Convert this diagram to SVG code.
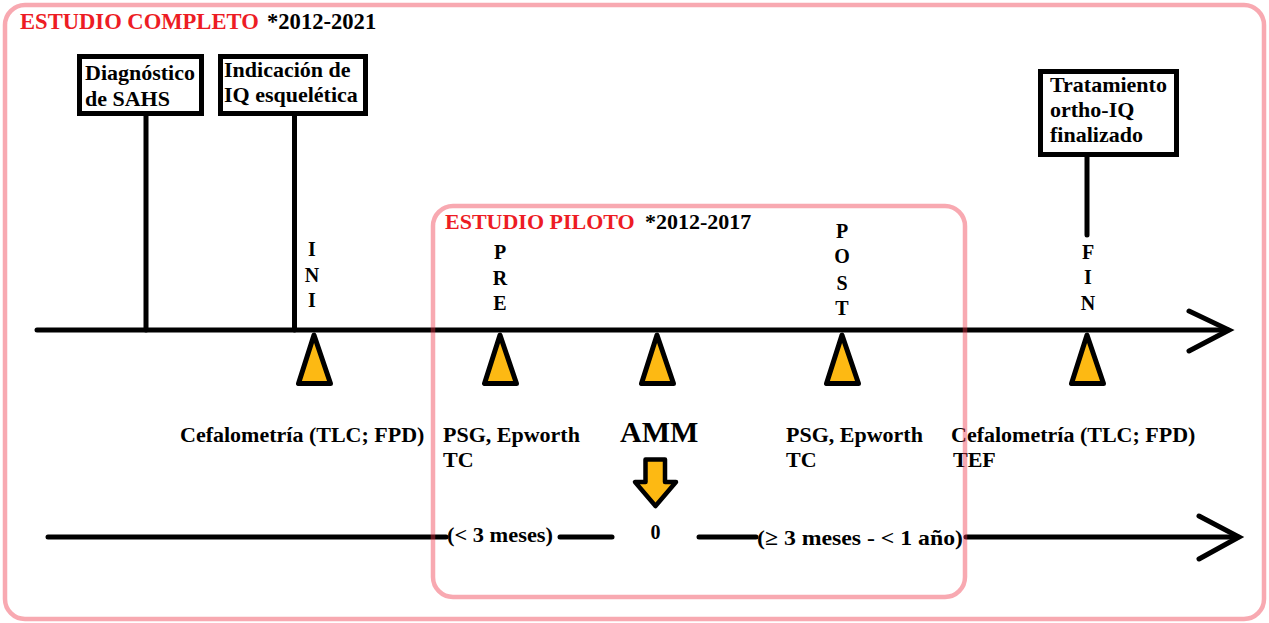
<svg xmlns="http://www.w3.org/2000/svg" width="1269" height="623" viewBox="0 0 1269 623">
<defs>
<style>
text{font-family:"Liberation Serif","Times New Roman",serif;font-weight:bold;fill:#000}
.t22{font-size:22px}
.t23{font-size:22.6px}
.t20{font-size:20px;text-anchor:middle}
.red{fill:#ED1C24}
.box{fill:#fff;stroke:#000;stroke-width:5}
.ln{stroke:#000;stroke-width:5;stroke-linecap:round;fill:none}
.tri{fill:#FDB913;stroke:#000;stroke-width:5;stroke-linejoin:round}
.frame{fill:none;stroke:#EE3344;stroke-opacity:0.42;stroke-width:4.5}
</style>
</defs>
<rect width="1269" height="623" fill="#fff"/>

<g id="connectors">
<line class="ln" x1="37" y1="330" x2="1228" y2="330"/>
<polyline class="ln" points="1189,311 1229,330 1189,351"/>
<line class="ln" x1="146" y1="115" x2="146" y2="330"/>
<line class="ln" x1="294.5" y1="115" x2="294.5" y2="330"/>
<line class="ln" x1="1087" y1="155" x2="1087" y2="235"/>
<line class="ln" x1="48" y1="537" x2="446" y2="537"/>
<line class="ln" x1="560" y1="537" x2="612" y2="537"/>
<line class="ln" x1="699" y1="537" x2="756" y2="537"/>
<line class="ln" x1="966" y1="537" x2="1238" y2="537"/>
<polyline class="ln" points="1199,516 1239,537 1199,559"/>
</g>

<g id="title-completo">
<text class="t23 red" x="20" y="29">ESTUDIO COMPLETO</text>
<text class="t23" x="267" y="29">*2012-2021</text>
</g>

<g id="node-diagnostico">
<rect class="box" x="79.5" y="56.5" width="122" height="57"/>
<text class="t22" x="85" y="80">Diagnóstico</text>
<text class="t22" x="85" y="106">de SAHS</text>
</g>

<g id="node-indicacion">
<rect class="box" x="220.5" y="56.5" width="145" height="57"/>
<text class="t22" x="224" y="77">Indicación de</text>
<text class="t22" x="224" y="102">IQ esquelética</text>
</g>

<g id="node-tratamiento">
<rect class="box" x="1040.5" y="71.5" width="136" height="83"/>
<text class="t22" x="1050" y="92">Tratamiento</text>
<text class="t22" x="1050" y="117">ortho-IQ</text>
<text class="t22" x="1050" y="142">finalizado</text>
</g>

<g id="node-ini">
<text class="t20" x="312" y="256">I</text>
<text class="t20" x="312" y="282">N</text>
<text class="t20" x="312" y="307">I</text>
<polygon class="tri" points="314,335 298.5,383.5 330.5,383.5"/>
<text class="t22" x="180" y="442">Cefalometría (TLC; FPD)</text>
</g>

<g id="node-pre">
<text class="t20" x="500" y="259">P</text>
<text class="t20" x="500" y="285">R</text>
<text class="t20" x="500" y="310">E</text>
<polygon class="tri" points="500,335 484.5,383.5 516.5,383.5"/>
<text class="t22" x="443" y="442">PSG, Epworth</text>
<text class="t22" x="443" y="467">TC</text>
</g>

<g id="node-amm">
<polygon class="tri" points="657,335 641.5,383.5 673.5,383.5"/>
<text x="620" y="442" style="font-size:30px">AMM</text>
<path d="M645.5,459.5 H665 V482 H676 L655.5,506 L635,482 H645.5 Z" fill="#FDB913" stroke="#000" stroke-width="4.5" stroke-linejoin="round"/>
<text x="655.5" y="539" style="font-size:20px;text-anchor:middle">0</text>
</g>

<g id="node-post">
<text class="t20" x="842" y="238">P</text>
<text class="t20" x="842" y="263">O</text>
<text class="t20" x="842" y="290">S</text>
<text class="t20" x="842" y="315">T</text>
<polygon class="tri" points="842,335 826.5,383.5 858.5,383.5"/>
<text class="t22" x="786" y="442">PSG, Epworth</text>
<text class="t22" x="786" y="467">TC</text>
</g>

<g id="node-fin">
<text class="t20" x="1088" y="259">F</text>
<text class="t20" x="1088" y="284">I</text>
<text class="t20" x="1088" y="310">N</text>
<polygon class="tri" points="1087,335 1071.5,383.5 1103.5,383.5"/>
<text class="t22" x="951" y="442">Cefalometría (TLC; FPD)</text>
<text class="t22" x="953" y="467">TEF</text>
</g>

<g id="labels-intervals">
<text class="t22" x="447" y="542" textLength="106" lengthAdjust="spacingAndGlyphs">(&lt; 3 meses)</text>
<text class="t22" x="757" y="545" textLength="206" lengthAdjust="spacingAndGlyphs">(≥ 3 meses - &lt; 1 año)</text>
</g>

<g id="title-piloto">
<text class="t22 red" x="445" y="229">ESTUDIO PILOTO</text>
<text class="t22" x="645" y="229">*2012-2017</text>
</g>

<g id="frames">
<rect class="frame" x="5" y="5" width="1259" height="614" rx="20"/>
<rect class="frame" x="433" y="206" width="532" height="391" rx="20"/>
</g>
</svg>
